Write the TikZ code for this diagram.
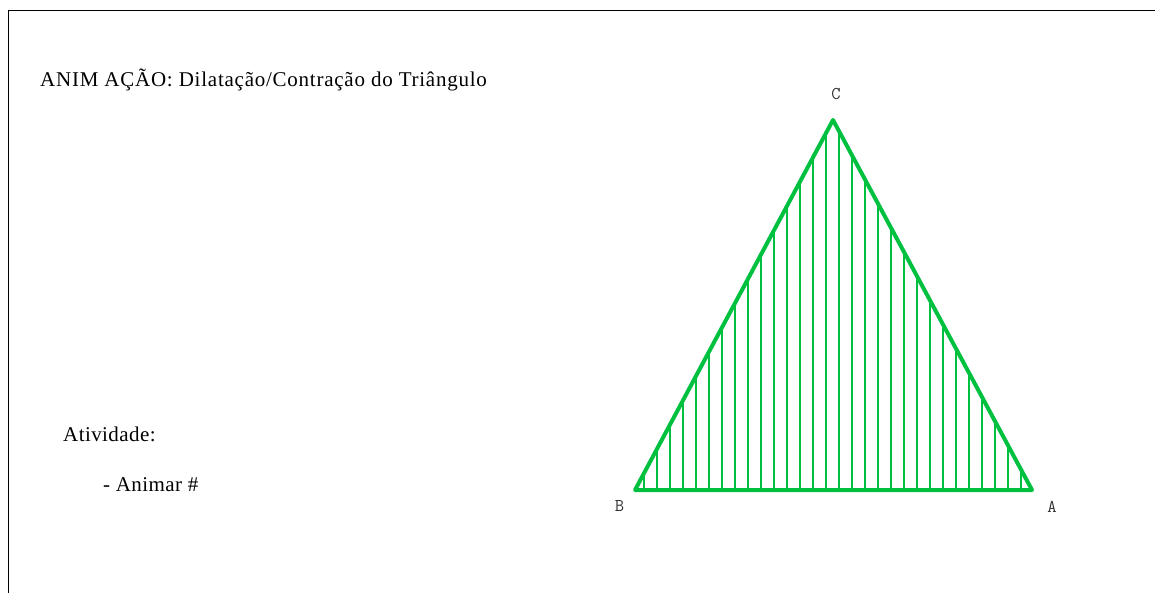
\documentclass[tikz,border=0pt]{standalone}
\usepackage{fontspec}
\setmainfont{Liberation Serif}[LetterSpace=2]
\newfontfamily\titlefont{Liberation Serif}[LetterSpace=3.6]
\definecolor{trigreen}{RGB}{0,192,64}
\begin{document}
\begin{tikzpicture}[x=1pt,y=-1pt,
  frame/.style={line width=1.4pt,black},
  txt/.style={anchor=base west,inner sep=0pt,font=\fontsize{21}{25}\selectfont},
  vlabel/.style={inner sep=0pt,font=\ttfamily\fontsize{18}{21}\selectfont,text=black!80},
  edge/.style={line width=4pt,trigreen,line join=round,line cap=round},
  hatch/.style={line width=1.3pt,trigreen}]
\useasboundingbox (0,0) rectangle (1155,593);
% frame
\coordinate (f0) at (8.5,593);
\coordinate (f1) at (8.5,10.5);
\coordinate (f2) at (1155,10.5);
\draw[frame] (f0) -- (f1) -- (f2);
% texts
\node[txt,font=\titlefont\fontsize{21}{25}\selectfont] (title) at (40,87) {ANIM AÇÃO: Dilatação/Contração do Triângulo};
\node[txt] (ativ) at (63,441) {Atividade:};
\node[txt] (anim) at (103,491) {- Animar \#};
% triangle
\coordinate (B) at (635,490);
\coordinate (A) at (1032,490);
\coordinate (C) at (833,120);
\begin{scope}
\clip (B) -- (A) -- (C) -- cycle;
\foreach \k in {0,...,29} {
  \draw[hatch] ({644+13*\k},495) -- ({644+13*\k},110);
}
\end{scope}
\draw[edge] (B) -- (A) -- (C) -- cycle;
\node[vlabel] (lC) at (836,94) {C};
\node[vlabel] (lB) at (619.5,505.5) {B};
\node[vlabel] (lA) at (1052,507) {A};
\end{tikzpicture}
\end{document}
